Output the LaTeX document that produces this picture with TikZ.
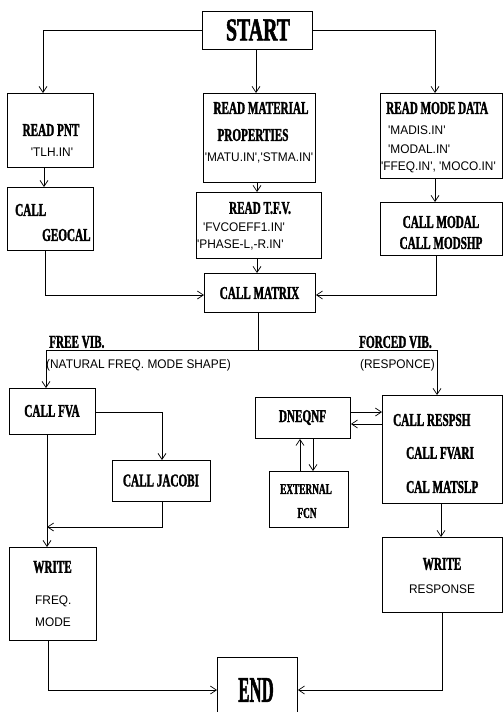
\documentclass[tikz,border=0pt]{standalone}
\usepackage{fontspec}
\usetikzlibrary{arrows.meta}
\newfontfamily\hd[FakeStretch=0.62, BoldFeatures={FakeBold=1.6}]{Liberation Serif}
\newfontfamily\sm[FakeStretch=0.95]{Liberation Sans}
\tikzset{
  box/.style={draw, line width=0.9pt, inner sep=0pt, anchor=north west},
  lbl/.style={inner sep=0pt, font=\hd\bfseries\fontsize{18}{18}\selectfont},
  fname/.style={inner sep=0pt, font=\sm\fontsize{12.5}{12.5}\selectfont},
  ln/.style={line width=0.7pt},
  arr/.style={ln, -{Straight Barb[length=6pt,width=8pt]}},
}
\begin{document}
\begin{tikzpicture}[x=1pt,y=-1pt]
\clip (0,0) rectangle (503,712);
\fill[white] (0,0) rectangle (503,712);
% boxes: top-left corner, width, height
\node[box, minimum width=110pt, minimum height=38pt] (start) at (202,11) {};
\node[box, minimum width=86pt, minimum height=74pt] (pnt) at (7,93) {};
\node[box, minimum width=112pt, minimum height=89pt] (mat) at (203,93) {};
\node[box, minimum width=122pt, minimum height=85pt] (mode) at (380,93) {};
\node[box, minimum width=86pt, minimum height=63pt] (geo) at (7,187) {};
\node[box, minimum width=125pt, minimum height=66pt] (tfv) at (196,192) {};
\node[box, minimum width=122pt, minimum height=53pt] (modal) at (380,202) {};
\node[box, minimum width=111pt, minimum height=39pt] (matrix) at (204,273) {};
\node[box, minimum width=86pt, minimum height=46pt] (fva) at (9,388) {};
\node[box, minimum width=98pt, minimum height=41pt] (jac) at (112,460) {};
\node[box, minimum width=95pt, minimum height=41pt] (dne) at (255,397) {};
\node[box, minimum width=120pt, minimum height=108pt] (resp) at (382,395) {};
\node[box, minimum width=79pt, minimum height=56pt] (ext) at (269,471) {};
\node[box, minimum width=87pt, minimum height=93pt] (wl) at (9,547) {};
\node[box, minimum width=120pt, minimum height=75pt] (wr) at (382,537) {};
\node[box, minimum width=80pt, minimum height=60pt] (end) at (217,657) {};
% texts
\node[lbl, font=\hd\bfseries\fontsize{32}{32}\selectfont] (tstart) at (258,30) {START};
\node[lbl] (tpnt) at (51,130) {READ PNT};
\node[fname] (fpnt) at (52,152) {'TLH.IN'};
\node[lbl] (tmat1) at (261,108) {READ MATERIAL};
\node[lbl] (tmat2) at (253,135) {PROPERTIES};
\node[fname] (fmat) at (259,158) {'MATU.IN','STMA.IN'};
\node[lbl, anchor=west] (tmode) at (386,108) {READ MODE DATA};
\node[fname, anchor=west] (fmode1) at (388,130) {'MADIS.IN'};
\node[fname, anchor=west] (fmode2) at (388,149) {'MODAL.IN'};
\node[fname, anchor=west] (fmode3) at (381,167) {'FFEQ.IN', 'MOCO.IN'};
\node[lbl, anchor=west] (tgeo1) at (15,210) {CALL};
\node[lbl, anchor=west] (tgeo2) at (42,235) {GEOCAL};
\node[lbl] (ttfv) at (260,208) {READ T.F.V.};
\node[fname, anchor=west] (ftfv1) at (203,227) {'FVCOEFF1.IN'};
\node[fname, anchor=west] (ftfv2) at (197,245) {'PHASE-L,-R.IN'};
\node[lbl] (tmodal1) at (441,222) {CALL MODAL};
\node[lbl] (tmodal2) at (441,243) {CALL MODSHP};
\node[lbl] (tmatrix) at (259.5,293) {CALL MATRIX};
\node[lbl, anchor=west] (tfree) at (49,342) {FREE VIB.};
\node[lbl, anchor=west] (tforced) at (359,342) {FORCED VIB.};
\node[fname, anchor=west] (tnat) at (46,365) {(NATURAL FREQ. MODE SHAPE)};
\node[fname, anchor=west] (tresc) at (360,365) {(RESPONCE)};
\node[lbl] (tfva) at (52,411) {CALL FVA};
\node[lbl] (tjac) at (161,480.5) {CALL JACOBI};
\node[lbl] (tdne) at (302.5,417.5) {DNEQNF};
\node[lbl, anchor=west] (tresp1) at (393,420) {CALL RESPSH};
\node[lbl, anchor=west] (tresp2) at (406,453) {CALL FVARI};
\node[lbl, anchor=west] (tresp3) at (406,487) {CAL MATSLP};
\node[lbl, font=\hd\bfseries\fontsize{15}{15}\selectfont] (text1) at (306,489) {EXTERNAL};
\node[lbl, font=\hd\bfseries\fontsize{15}{15}\selectfont] (text2) at (307,513) {FCN};
\node[lbl] (twl) at (52.5,567) {WRITE};
\node[fname, anchor=west] (twl2) at (35,601) {FREQ.};
\node[fname, anchor=west] (twl3) at (35,622) {MODE};
\node[lbl] (twr) at (442,564) {WRITE};
\node[fname] (twr2) at (442,589) {RESPONSE};
\node[lbl, font=\hd\bfseries\fontsize{36}{36}\selectfont] (tend) at (256,690) {\scalebox{0.75}[1]{END}};
% connectors
\coordinate (sl) at (43,30);
\coordinate (sr) at (435,30);
\draw[arr] (start.west |- 0,30) -- (sl) -- (pnt.north -| sl);
\draw[arr] (start.east |- 0,30) -- (sr) -- (mode.north -| sr);
\draw[arr] (start.south -| 256,0) -- (mat.north -| 256,0);
\draw[arr] (pnt.south -| 44,0) -- (geo.north -| 44,0);
\draw[arr] (mat.south -| 257,0) -- (tfv.north -| 257,0);
\draw[arr] (mode.south -| 435,0) -- (modal.north -| 435,0);
\draw[arr] (tfv.south -| 257,0) -- (matrix.north -| 257,0);
\coordinate (gm) at (45,295);
\coordinate (mm) at (436,295);
\draw[arr] (geo.south -| gm) -- (gm) -- (matrix.west |- gm);
\draw[arr] (modal.south -| mm) -- (mm) -- (matrix.east |- mm);
\coordinate (bs) at (258,350);
\coordinate (bl) at (46,350);
\coordinate (br) at (437,350);
\draw[ln] (matrix.south -| bs) -- (bs);
\draw[arr] (bs) -- (bl) -- (fva.north -| bl);
\draw[arr] (bs) -- (br) -- (resp.north -| br);
\coordinate (fj) at (162,412);
\draw[arr] (fva.east |- fj) -- (fj) -- (jac.north -| fj);
\draw[arr] (fva.south -| 47,0) -- (wl.north -| 47,0);
\coordinate (jb) at (162,527);
\coordinate (jl) at (47,527);
\draw[arr] (jac.south -| jb) -- (jb) -- (jl);
\draw[arr] (dne.east |- 0,412) -- (resp.west |- 0,412);
\draw[arr] (resp.west |- 0,424) -- (dne.east |- 0,424);
\draw[arr] (ext.north -| 300,0) -- (dne.south -| 300,0);
\draw[arr] (dne.south -| 313,0) -- (ext.north -| 313,0);
\draw[arr] (resp.south -| 441,0) -- (wr.north -| 441,0);
\coordinate (el) at (48,690);
\coordinate (er) at (442,690);
\draw[arr] (wl.south -| el) -- (el) -- (end.west |- el);
\draw[arr] (wr.south -| er) -- (er) -- (end.east |- er);
\end{tikzpicture}
\end{document}
